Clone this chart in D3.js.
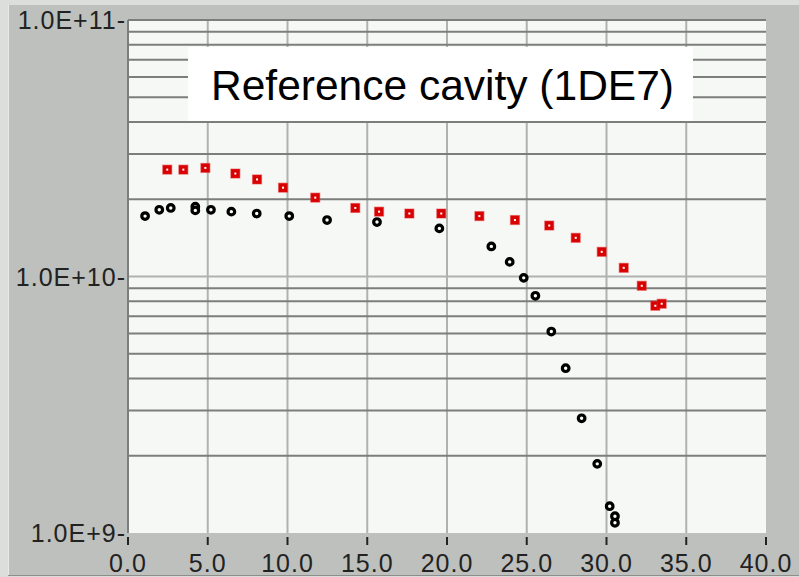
<!DOCTYPE html>
<html>
<head>
<meta charset="utf-8">
<script src="https://cdn.jsdelivr.net/npm/d3@7"></script>
<style>
  html, body { margin: 0; padding: 0; background: #dcdedc; }
  svg { display: block; }
</style>
</head>
<body>
<script>
// ---- data ----
const titleText = "Reference cavity (1DE7)";
const xTicks = [0, 5, 10, 15, 20, 25, 30, 35, 40];
const xTickLabels = ["0.0", "5.0", "10.0", "15.0", "20.0", "25.0", "30.0", "35.0", "40.0"];
const yTicks = [1e9, 1e10, 1e11];
const yTickLabels = ["1.0E+9-", "1.0E+10-", "1.0E+11-"];

const redX = [2.46, 3.47, 4.85, 6.73, 8.09, 9.72, 11.74, 14.25, 15.74, 17.64, 19.64, 22.03, 24.26, 26.41, 28.07, 29.70, 31.08, 32.21, 33.06, 33.46];
const redY = [2.61e10, 2.61e10, 2.65e10, 2.52e10, 2.39e10, 2.22e10, 2.03e10, 1.85e10, 1.79e10, 1.76e10, 1.76e10, 1.72e10, 1.66e10, 1.58e10, 1.415e10, 1.248e10, 1.081e10, 9.2e9, 7.69e9, 7.83e9];

const blackX = [1.07, 1.96, 2.68, 4.22, 4.22, 5.20, 6.48, 8.07, 10.11, 12.48, 15.61, 19.52, 22.78, 23.93, 24.81, 25.54, 26.54, 27.44, 28.44, 29.42, 30.20, 30.53, 30.53];
const blackY = [1.72e10, 1.82e10, 1.85e10, 1.87e10, 1.81e10, 1.82e10, 1.79e10, 1.76e10, 1.72e10, 1.66e10, 1.63e10, 1.54e10, 1.31e10, 1.14e10, 9.88e9, 8.41e9, 6.10e9, 4.39e9, 2.80e9, 1.86e9, 1.272e9, 1.162e9, 1.096e9];

// ---- layout ----
const W = 799, H = 577;
const plot = { left: 128, right: 766, top: 20, bottom: 533 };

const svg = d3.select("body").append("svg").attr("width", W).attr("height", H);

// backgrounds
svg.append("rect").attr("x", 0).attr("y", 0).attr("width", W).attr("height", H).attr("fill", "#dcdedc");
svg.append("rect").attr("x", 8).attr("y", 5).attr("width", W - 8).attr("height", 570).attr("fill", "#bdc0bd");
svg.append("line").attr("x1", 8).attr("x2", W).attr("y1", 575.5).attr("y2", 575.5).attr("stroke", "#8c8e8c").attr("stroke-width", 1);
svg.append("line").attr("x1", 8.5).attr("x2", 8.5).attr("y1", 5).attr("y2", 575).attr("stroke", "#e8eae8").attr("stroke-width", 1);

const x = d3.scaleLinear().domain([0, 40]).range([plot.left, plot.right]);
const y = d3.scaleLog().domain([1e9, 1e11]).range([plot.bottom, plot.top]);

svg.append("rect")
  .attr("x", plot.left).attr("y", plot.top)
  .attr("width", plot.right - plot.left).attr("height", plot.bottom - plot.top)
  .attr("fill", "#f5f8f5");

const g = svg.append("g");

// vertical grid
g.selectAll("line.vg").data(xTicks.filter(t => t > 0 && t < 40)).enter().append("line")
  .attr("x1", d => x(d)).attr("x2", d => x(d))
  .attr("y1", plot.top).attr("y2", plot.bottom)
  .attr("stroke", "#b0b2b0").attr("stroke-width", 2);

// horizontal minor grid
const minors = [];
[1e9, 1e10].forEach(dec => { for (let k = 2; k <= 9; k++) minors.push(dec * k); });
g.selectAll("line.hg").data(minors).enter().append("line")
  .attr("x1", plot.left).attr("x2", plot.right)
  .attr("y1", d => y(d)).attr("y2", d => y(d))
  .attr("stroke", "#7c7e7c").attr("stroke-width", 2);

// decade line
g.append("line")
  .attr("x1", plot.left).attr("x2", plot.right)
  .attr("y1", y(1e10)).attr("y2", y(1e10))
  .attr("stroke", "#b0b2b0").attr("stroke-width", 2);

// borders
g.append("line").attr("x1", plot.left).attr("x2", plot.right).attr("y1", plot.top).attr("y2", plot.top)
  .attr("stroke", "#7c7e7c").attr("stroke-width", 2);
g.append("line").attr("x1", plot.left).attr("x2", plot.left).attr("y1", plot.top).attr("y2", plot.bottom)
  .attr("stroke", "#7c7e7c").attr("stroke-width", 2);

// title box
svg.append("rect").attr("x", 188).attr("y", 47).attr("width", 505).attr("height", 74).attr("fill", "#ffffff");
svg.append("text")
  .attr("x", 211).attr("y", 100)
  .attr("font-family", "Liberation Sans, Arial, sans-serif")
  .attr("font-size", 42.5)
  .attr("fill", "#000")
  .text(titleText);

// x axis ticks and labels
const xAxisG = svg.append("g");
xAxisG.selectAll("line").data(xTicks).enter().append("line")
  .attr("x1", d => x(d)).attr("x2", d => x(d))
  .attr("y1", 537).attr("y2", 545)
  .attr("stroke", "#222").attr("stroke-width", 2);
xAxisG.selectAll("text").data(xTicks).enter().append("text")
  .attr("x", d => x(d)).attr("y", 572)
  .attr("text-anchor", "middle")
  .attr("font-family", "Liberation Sans, Arial, sans-serif")
  .attr("font-size", 25)
  .attr("letter-spacing", 1)
  .attr("fill", "#222")
  .text((d, i) => xTickLabels[i]);

// y axis labels
svg.append("g").selectAll("text").data(yTicks).enter().append("text")
  .attr("x", 126).attr("y", d => y(d))
  .attr("dy", "0.36em")
  .attr("text-anchor", "end")
  .attr("font-family", "Liberation Sans, Arial, sans-serif")
  .attr("font-size", 25)
  .attr("letter-spacing", 1)
  .attr("fill", "#222")
  .text((d, i) => yTickLabels[i]);

// black circles
const blackData = blackX.map((v, i) => ({ x: v, y: blackY[i] }));
svg.append("g").selectAll("circle").data(blackData).enter().append("circle")
  .attr("cx", d => x(d.x)).attr("cy", d => y(d.y)).attr("r", 3.3)
  .attr("fill", "#ffffff").attr("stroke", "#000").attr("stroke-width", 3.2);

// red squares
const redData = redX.map((v, i) => ({ x: v, y: redY[i] }));
const rg = svg.append("g");
rg.selectAll("rect.sq").data(redData).enter().append("rect")
  .attr("x", d => x(d.x) - 4.5).attr("y", d => y(d.y) - 4.5)
  .attr("width", 9).attr("height", 9)
  .attr("fill", "#d80000").attr("stroke", "rgba(230,40,40,0.45)").attr("stroke-width", 1.2);
rg.selectAll("rect.dot").data(redData).enter().append("rect")
  .attr("x", d => x(d.x) - 1).attr("y", d => y(d.y) - 1)
  .attr("width", 2).attr("height", 2)
  .attr("fill", "#ffffff");
</script>
</body>
</html>
